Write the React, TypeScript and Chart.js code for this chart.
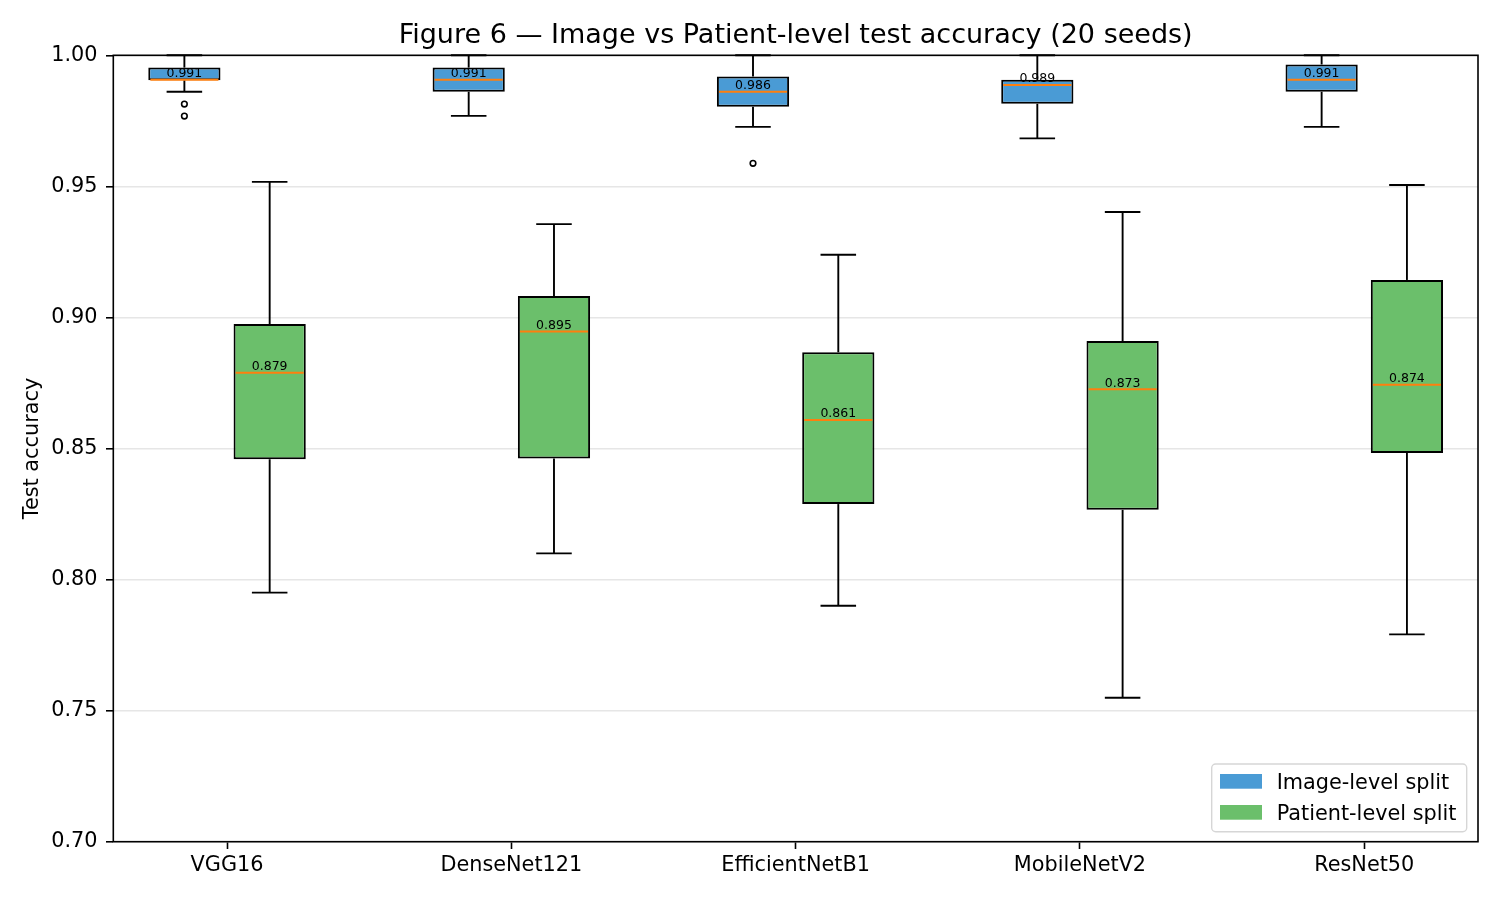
import { useEffect, useRef } from "react";
import { Chart, registerables } from "chart.js";

Chart.register(...registerables);

const FONT = "'DejaVu Sans', 'Liberation Sans', sans-serif";

const TITLE = "Figure 6 — Image vs Patient-level test accuracy (20 seeds)";

const models = ["VGG16", "DenseNet121", "EfficientNetB1", "MobileNetV2", "ResNet50"];

// image-level split (20 seeds): whisker ends, quartiles, median
const imageWhisLo = [0.9861, 0.9769, 0.9727, 0.9683, 0.9727];
const imageQ1 = [0.9905, 0.9861, 0.9804, 0.9815, 0.9861];
const imageMedian = [0.9907, 0.9907, 0.9861, 0.9887, 0.9907];
const imageQ3 = [0.9953, 0.9953, 0.9919, 0.9907, 0.9965];
const imageWhisHi = [1.0, 1.0, 1.0, 1.0, 1.0];
const imageOutliers = [[0.9814, 0.9768], [], [0.9588], [], []];

// patient-level split
const patientWhisLo = [0.795, 0.81, 0.79, 0.7549, 0.7791];
const patientQ1 = [0.8459, 0.8462, 0.8288, 0.8266, 0.8483];
const patientMedian = [0.8789, 0.8946, 0.8609, 0.8726, 0.8743];
const patientQ3 = [0.8975, 0.9082, 0.8867, 0.891, 0.9143];
const patientWhisHi = [0.9517, 0.9356, 0.9239, 0.9402, 0.9505];
const patientOutliers: number[][] = [[], [], [], [], []];

const yTicks = [0.7, 0.75, 0.8, 0.85, 0.9, 0.95, 1.0];

const IMAGE_COLOR = "#4a9bd5";
const PATIENT_COLOR = "#6bbf6b";
const BOX_WIDTH = 0.25;
const SHIFT = 0.15;

const splits = [
  {
    label: "Image-level split",
    color: IMAGE_COLOR,
    offset: -SHIFT,
    lo: imageWhisLo,
    q1: imageQ1,
    med: imageMedian,
    q3: imageQ3,
    hi: imageWhisHi,
    fliers: imageOutliers,
  },
  {
    label: "Patient-level split",
    color: PATIENT_COLOR,
    offset: SHIFT,
    lo: patientWhisLo,
    q1: patientQ1,
    med: patientMedian,
    q3: patientQ3,
    hi: patientWhisHi,
    fliers: patientOutliers,
  },
];

const boxExtras = {
  id: "boxExtras",
  afterDatasetsDraw(chart: any) {
    const { ctx } = chart;
    const xs = chart.scales.x;
    const ys = chart.scales.y;
    const Y = (v: number) => ys.getPixelForValue(v);
    const seg = (x1: number, y1: number, x2: number, y2: number) => {
      ctx.beginPath();
      ctx.moveTo(x1, y1);
      ctx.lineTo(x2, y2);
      ctx.stroke();
    };
    ctx.save();
    splits.forEach((s) => {
      s.med.forEach((m, i) => {
        const c = i + 1 + s.offset;
        const px = xs.getPixelForValue(c);
        const half = (xs.getPixelForValue(c + BOX_WIDTH / 2) - xs.getPixelForValue(c - BOX_WIDTH / 2)) / 2;
        const cap = half / 2;
        ctx.strokeStyle = "#000";
        ctx.lineWidth = 1.9;
        seg(px, Y(s.q3[i]), px, Y(s.hi[i]));
        seg(px - cap, Y(s.hi[i]), px + cap, Y(s.hi[i]));
        seg(px, Y(s.q1[i]), px, Y(s.lo[i]));
        seg(px - cap, Y(s.lo[i]), px + cap, Y(s.lo[i]));
        ctx.strokeStyle = "#ff7f0e";
        ctx.lineWidth = 2;
        seg(px - half + 1.5, Y(m), px + half - 1.5, Y(m));
        ctx.fillStyle = "#000";
        ctx.font = `12.5px ${FONT}`;
        ctx.textAlign = "center";
        ctx.textBaseline = "alphabetic";
        ctx.fillText(m.toFixed(3), px, Y(m) - 2.5);
      });
    });
    ctx.restore();
  },
  afterDraw(chart: any) {
    const { ctx, chartArea: ca } = chart;
    ctx.save();
    // axes frame
    ctx.strokeStyle = "#000";
    ctx.lineWidth = 1.6;
    ctx.strokeRect(ca.left, ca.top, ca.right - ca.left, ca.bottom - ca.top);

    // title centred over the axes
    ctx.fillStyle = "#000";
    ctx.font = `27px ${FONT}`;
    ctx.textAlign = "center";
    ctx.textBaseline = "middle";
    ctx.fillText(TITLE, (ca.left + ca.right) / 2, ca.top - 19);

    // legend, lower right
    const w = 255;
    const h = 67.7;
    const left = ca.right - 11.3 - w;
    const top = ca.bottom - 10 - h;
    ctx.beginPath();
    ctx.roundRect(left, top, w, h, 4);
    ctx.fillStyle = "rgba(255,255,255,0.8)";
    ctx.fill();
    ctx.strokeStyle = "#d6d6d6";
    ctx.lineWidth = 1.4;
    ctx.stroke();
    ctx.font = `20.8px ${FONT}`;
    ctx.textAlign = "left";
    ctx.textBaseline = "alphabetic";
    splits.forEach((s, k) => {
      const base = top + 24.7 + k * 31;
      ctx.fillStyle = s.color;
      ctx.fillRect(left + 8.3, base - 14.7, 42, 14.7);
      ctx.fillStyle = "#000";
      ctx.fillText(s.label, left + 65, base);
    });
    ctx.restore();
  },
};

export default function App() {
  const chartRef = useRef<HTMLCanvasElement>(null);
  const chartInstance = useRef<Chart | null>(null);

  useEffect(() => {
    document.body.style.margin = "0";
    if (!chartRef.current) return;
    if (chartInstance.current) chartInstance.current.destroy();
    const ctx = chartRef.current.getContext("2d");
    if (!ctx) return;

    const boxSets = splits.map((s) => ({
      type: "bar" as const,
      label: s.label,
      data: models.map((_, i) => ({ x: i + 1 + s.offset, y: [s.q1[i], s.q3[i]] })),
      backgroundColor: s.color,
      borderColor: "#000",
      borderWidth: 2,
      borderSkipped: false,
      grouped: false,
      categoryPercentage: 1,
      // min gap between box centres is 2*SHIFT
      barPercentage: (BOX_WIDTH + 0.004) / (2 * SHIFT),
    }));

    const flierSet = {
      type: "scatter" as const,
      label: "outliers",
      data: splits.flatMap((s) =>
        s.fliers.flatMap((vals, i) => vals.map((v) => ({ x: i + 1 + s.offset, y: v })))
      ),
      pointStyle: "circle",
      pointRadius: 2.8,
      pointBorderWidth: 1.6,
      pointBorderColor: "#000",
      pointBackgroundColor: "rgba(255,255,255,0)",
    };

    chartInstance.current = new Chart(ctx, {
      type: "bar",
      data: { datasets: [...boxSets, flierSet] as any },
      options: {
        responsive: false,
        animation: false,
        events: [],
        layout: { padding: { left: 0, right: 22, top: 55.3, bottom: 0 } },
        plugins: {
          legend: { display: false },
          tooltip: { enabled: false },
          title: { display: false },
        },
        scales: {
          x: {
            type: "linear",
            min: 0.6,
            max: 5.4,
            offset: false,
            afterBuildTicks: (axis: any) => {
              axis.ticks = models.map((_, i) => ({ value: i + 1 }));
            },
            afterFit: (axis: any) => {
              axis.height = 58.3;
            },
            ticks: {
              color: "#000",
              font: { family: FONT, size: 20.8 },
              padding: 4.5,
              maxRotation: 0,
              autoSkip: false,
              callback: (v: any) => models[Math.round(Number(v)) - 1] ?? "",
            },
            grid: {
              offset: false,
              drawOnChartArea: false,
              tickColor: "#000",
              tickLength: 7.3,
              tickWidth: 1.6,
            },
            border: { display: false },
          },
          y: {
            type: "linear",
            min: 0.7,
            max: 1.0,
            afterBuildTicks: (axis: any) => {
              axis.ticks = yTicks.map((v) => ({ value: v }));
            },
            afterFit: (axis: any) => {
              axis.width = 113.3;
            },
            ticks: {
              color: "#000",
              font: { family: FONT, size: 20.8 },
              padding: 8.5,
              callback: (v: any) => Number(v).toFixed(2),
            },
            grid: {
              color: "#e6e6e6",
              lineWidth: 1.6,
              tickColor: "#000",
              tickLength: 7.3,
              tickWidth: 1.6,
            },
            border: { display: false },
            title: {
              display: true,
              text: "Test accuracy",
              color: "#000",
              font: { family: FONT, size: 20.8 },
              padding: { top: 20, bottom: 0 },
            },
          },
        },
      } as any,
      plugins: [boxExtras],
    });

    return () => {
      if (chartInstance.current) {
        chartInstance.current.destroy();
        chartInstance.current = null;
      }
    };
  }, []);

  return (
    <div style={{ width: 1500, height: 900, background: "#fff" }}>
      <canvas ref={chartRef} width={1500} height={900}></canvas>
    </div>
  );
}
